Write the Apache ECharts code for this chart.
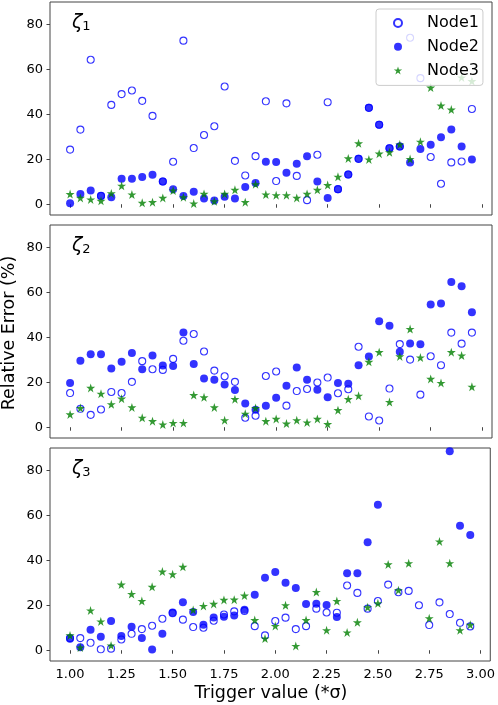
<!DOCTYPE html>
<html>
<head>
<meta charset="utf-8">
<script src="https://cdn.jsdelivr.net/npm/echarts@6/dist/echarts.min.js"></script>
<style>
  html, body { margin: 0; padding: 0; background: #fff; }
  #chart { width: 498px; height: 705px; }
</style>
</head>
<body>
<div id="chart"></div>
<script>
// trigger values (*sigma), shared by every panel
const triggerValues = [
  1.00, 1.05, 1.10, 1.15, 1.20, 1.25, 1.30, 1.35, 1.40, 1.45,
  1.50, 1.55, 1.60, 1.65, 1.70, 1.75, 1.80, 1.85, 1.90, 1.95,
  2.00, 2.05, 2.10, 2.15, 2.20, 2.25, 2.30, 2.35, 2.40, 2.45,
  2.50, 2.55, 2.60, 2.65, 2.70, 2.75, 2.80, 2.85, 2.90, 2.95
];

const xTicks = [1.00, 1.25, 1.50, 1.75, 2.00, 2.25, 2.50, 2.75, 3.00];
const yTicks = [0, 20, 40, 60, 80];

// zeta 1
const zeta1Node1 = [
  24.3, 33.2, 64.3, 3.7, 44.2, 49.0, 50.6, 46.0, 39.3, 10.1,
  18.9, 72.8, 25.0, 30.8, 34.7, 52.4, 19.3, 12.8, 21.4, 45.8,
  10.3, 44.9, 12.6, 1.8, 22.0, 45.4, 6.7, 13.2, 20.2, 42.9,
  35.4, 24.9, 25.7, 74.1, 56.1, 21.0, 9.1, 18.6, 19.0, 42.4
];
const zeta1Node2 = [
  0.4, 4.6, 6.1, 3.7, 3.1, 11.3, 11.3, 12.1, 13.1, 10.1,
  6.7, 3.7, 5.5, 2.5, 1.6, 3.3, 2.5, 7.7, 9.4, 18.9,
  18.8, 14.0, 18.0, 21.4, 10.1, 2.8, 6.7, 13.2, 20.2, 42.9,
  35.4, 24.9, 25.7, 18.6, 24.6, 26.5, 29.8, 33.2, 25.7, 19.9
];
const zeta1Node3 = [
  4.5, 2.8, 2.1, 1.5, 4.8, 8.2, 4.3, 0.6, 0.9, 2.8,
  6.1, 3.1, 0.3, 4.6, 1.3, 4.6, 6.4, 0.9, 8.9, 4.3,
  4.0, 4.0, 2.8, 4.6, 6.4, 8.5, 12.2, 20.4, 27.1, 19.9,
  22.5, 23.1, 26.6, 20.1, 27.8, 51.9, 43.9, 42.1, 56.4, 54.8
];

// zeta 2
const zeta2Node1 = [
  15.2, 8.2, 5.5, 7.9, 15.7, 15.2, 20.2, 29.4, 25.8, 25.5,
  30.4, 38.5, 41.5, 33.7, 25.2, 22.7, 20.2, 4.2, 5.1, 22.8,
  24.8, 9.6, 16.1, 17.0, 19.9, 22.1, 15.1, 16.9, 35.8, 4.8,
  3.0, 17.2, 37.0, 30.1, 14.5, 31.6, 27.6, 42.1, 37.2, 42.1
];
const zeta2Node2 = [
  19.7, 29.6, 32.5, 32.5, 26.1, 29.1, 33.0, 25.8, 31.9, 27.5,
  27.2, 42.2, 28.1, 21.7, 21.1, 19.0, 16.6, 10.5, 7.8, 9.6,
  13.1, 18.5, 26.6, 21.1, 16.7, 13.3, 19.7, 19.4, 27.6, 31.5,
  47.2, 45.2, 33.6, 37.3, 36.9, 54.6, 55.1, 64.6, 62.7, 51.2
];
const zeta2Node3 = [
  5.7, 8.5, 17.5, 14.9, 10.2, 12.7, 8.8, 4.2, 2.7, 1.2,
  1.9, 1.9, 14.3, 13.3, 8.8, 3.1, 12.5, 6.0, 8.5, 2.7,
  3.7, 1.6, 3.1, 2.1, 3.7, 1.4, 7.6, 12.5, 14.0, 29.1,
  33.4, 11.2, 31.5, 43.7, 31.0, 21.5, 19.7, 33.4, 31.9, 18.0
];

// zeta 3 (null = off the plot)
const zeta3Node1 = [
  5.4, 5.4, 3.3, 0.4, 0.7, 4.8, 7.3, 9.4, 10.9, 14.0,
  16.5, 13.6, 10.3, 10.0, 13.1, 15.9, 17.3, 17.5, 10.7, 6.6,
  13.0, 14.5, 9.4, 10.7, 18.5, 16.8, 16.7, 28.8, 25.5, 18.5,
  21.9, 29.2, 25.8, 26.4, 20.0, 11.2, 21.3, 16.1, 12.2, 10.6
];
const zeta3Node2 = [
  5.1, 1.3, 9.1, 6.0, 13.0, 6.3, 10.4, 5.4, 0.3, 7.3,
  16.8, 21.3, 17.0, 11.3, 14.6, 14.9, 15.4, 18.0, 24.7, 32.3,
  34.8, 30.0, 27.7, 20.6, 20.7, 20.1, 14.8, 34.3, 34.3, 48.1,
  64.7, null, null, null, null, null, null, 88.6, 55.4, 51.3
];
const zeta3Node3 = [
  6.6, 1.2, 17.7, 12.8, 2.1, 29.2, 25.0, 21.9, 28.2, 35.0,
  33.8, 37.1, 17.9, 19.7, 20.6, 22.4, 22.5, 24.3, 13.4, 5.2,
  10.8, 20.0, 1.9, 13.4, 25.9, 8.9, 21.9, 7.9, 12.4, 19.1,
  20.9, 38.2, 26.7, 38.7, null, 14.2, 48.4, 38.7, 8.9, 11.3
];

const panelLabels = ['1', '2', '3'];
const seriesNames = ['Node1', 'Node2', 'Node3'];
const panels = [
  [zeta1Node1, zeta1Node2, zeta1Node3],
  [zeta2Node1, zeta2Node2, zeta2Node3],
  [zeta3Node1, zeta3Node2, zeta3Node3]
];

const FONT = 'DejaVu Sans';
const BLUE = '#0000ff';
const GREEN = '#008000';
const STAR = 'path://M50,0 L61.2,34.5 L97.6,34.5 L68.2,55.9 L79.4,90.5 L50,69.1 L20.6,90.5 L31.8,55.9 L2.4,34.5 L38.8,34.5 Z';

const gridTops = [2, 225, 448];
const gridHeight = 213;

function toPoints(values) {
  return values
    .map((v, i) => [triggerValues[i], v])
    .filter(p => p[1] !== null);
}

const chart = echarts.init(document.getElementById('chart'), null, { renderer: 'canvas' });

const grids = gridTops.map(top => ({
  left: 50,
  right: 6,
  top: top,
  height: gridHeight,
  show: true,
  borderColor: '#444',
  borderWidth: 1,
  backgroundColor: 'transparent'
}));

const xAxes = gridTops.map((top, i) => ({
  gridIndex: i,
  type: 'value',
  min: 0.9025,
  max: 3.0475,
  axisLine: { show: false },
  splitLine: { show: false },
  axisTick: {
    show: true,
    length: 3.5,
    customValues: xTicks,
    lineStyle: { color: '#444', width: 1 }
  },
  axisLabel: {
    show: i === 2,
    customValues: xTicks,
    margin: 7,
    fontFamily: FONT,
    fontSize: 13,
    color: '#000',
    formatter: v => v.toFixed(2)
  }
}));

const yAxes = gridTops.map((top, i) => ({
  gridIndex: i,
  type: 'value',
  min: -4.8,
  max: 90,
  axisLine: { show: false },
  splitLine: { show: false },
  axisTick: {
    show: true,
    length: 3.5,
    customValues: yTicks,
    lineStyle: { color: '#444', width: 1 }
  },
  axisLabel: {
    customValues: yTicks,
    margin: 7,
    fontFamily: FONT,
    fontSize: 13,
    color: '#000'
  }
}));

const series = [];
panels.forEach((panel, i) => {
  series.push({
    name: seriesNames[0],
    type: 'scatter',
    xAxisIndex: i,
    yAxisIndex: i,
    symbol: 'circle',
    symbolSize: 7,
    itemStyle: { color: 'rgba(0,0,0,0)', borderColor: BLUE, borderWidth: 1.1 },
    data: toPoints(panel[0])
  });
  series.push({
    name: seriesNames[1],
    type: 'scatter',
    xAxisIndex: i,
    yAxisIndex: i,
    symbol: 'circle',
    symbolSize: 8,
    itemStyle: { color: BLUE },
    data: toPoints(panel[1])
  });
  series.push({
    name: seriesNames[2],
    type: 'scatter',
    xAxisIndex: i,
    yAxisIndex: i,
    symbol: STAR,
    symbolSize: 9,
    itemStyle: { color: GREEN },
    data: toPoints(panel[2])
  });
});

const labelGraphics = gridTops.map((top, i) => ({
  type: 'text',
  left: 72,
  top: top + 12,
  style: {
    text: '{z|ζ}{s|' + panelLabels[i] + '}',
    rich: {
      z: { fontFamily: FONT, fontStyle: 'italic', fontSize: 19, color: '#000' },
      s: { fontFamily: FONT, fontSize: 13, color: '#000', padding: [7, 0, 0, 0] }
    }
  }
}));

const option = {
  animation: false,
  backgroundColor: '#fff',
  grid: grids,
  xAxis: xAxes,
  yAxis: yAxes,
  legend: {
    data: seriesNames,
    orient: 'vertical',
    left: 376,
    top: 9,
    z: 10,
    padding: [4, 4, 5, 17],
    itemWidth: 10,
    itemHeight: 8,
    itemGap: 3.7,
    borderColor: '#cccccc',
    borderWidth: 1,
    borderRadius: 3,
    backgroundColor: 'rgba(255,255,255,0.8)',
    formatter: name => '{t|' + name + '}',
    textStyle: {
      fontFamily: FONT,
      fontSize: 16,
      color: '#000',
      lineHeight: 20,
      rich: {
        t: { fontFamily: FONT, fontSize: 16, color: '#000', lineHeight: 20, padding: [0, 0, 0, 19] }
      }
    }
  },
  graphic: labelGraphics.concat([
    {
      type: 'text',
      x: 271,
      y: 693,
      style: {
        text: 'Trigger value (*σ)',
        fontFamily: FONT,
        fontSize: 17.5,
        fill: '#000',
        align: 'center',
        verticalAlign: 'middle'
      }
    },
    {
      type: 'text',
      x: 9,
      y: 333,
      rotation: Math.PI / 2,
      style: {
        text: 'Relative Error (%)',
        fontFamily: FONT,
        fontSize: 17.5,
        fill: '#000',
        align: 'center',
        verticalAlign: 'middle'
      }
    }
  ]),
  series: series
};

chart.setOption(option);
</script>
</body>
</html>
